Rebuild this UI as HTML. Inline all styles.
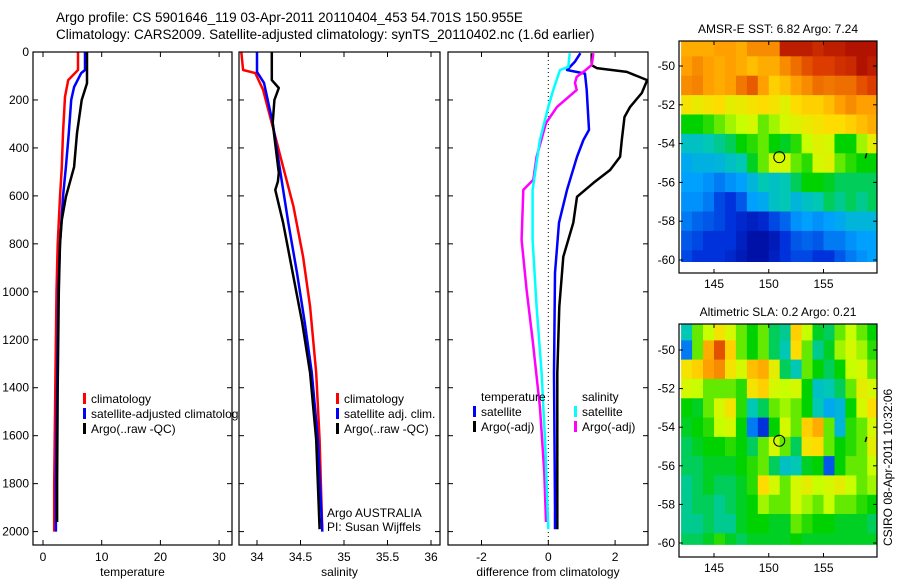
<!DOCTYPE html>
<html><head><meta charset="utf-8"><style>
body{margin:0;background:#fff;}
svg{display:block;font-family:"Liberation Sans",sans-serif;}
</style></head><body>
<svg id="fig" width="900" height="580" viewBox="0 0 900 580"></svg>
<script>
// ---- profile data (depth in m) ----
const tClimDepth=[0,75,117,187,338,479,604,800,1000,1400,1800,2000];
const tClimVal=[5.96,5.96,4.3,3.75,3.4,3.2,2.9,2.5,2.3,2.1,1.9,1.9];
const tSatDepth=[0,75,88,146,200,338,479,604,800,1000,1400,1800,2000];
const tSatVal=[7.15,7.15,6.5,5.3,4.8,4.4,3.9,3.4,2.9,2.6,2.4,2.2,2.2];
const tArgoDepth=[0,130,200,338,479,604,700,800,1000,1400,1800,1960];
const tArgoVal=[7.5,7.5,6.6,5.8,5.3,3.9,3.2,2.9,2.7,2.5,2.4,2.4];

const sClimDepth=[0,75,88,158,296,437,645,854,1062,1338,1617,2000];
const sClimVal=[33.82,33.84,33.98,34.07,34.17,34.27,34.42,34.53,34.61,34.68,34.72,34.75];
const sSatDepth=[0,83,129,296,504,712,921,1129,1338,1617,2000];
const sSatVal=[34.0,34.0,34.08,34.18,34.27,34.36,34.46,34.55,34.63,34.70,34.75];
const sArgoDepth=[0,117,150,200,296,504,540,575,712,921,1129,1338,1617,1990];
const sArgoVal=[34.17,34.17,34.25,34.2,34.18,34.25,34.24,34.21,34.3,34.41,34.52,34.61,34.68,34.72];

const dTSatDepth=[5,40,75,90,158,325,367,437,575,712,921,1338,1900,1990];
const dTSatVal=[0.96,0.8,0.56,1.1,1.15,1.22,1.05,0.86,0.56,0.32,0.2,0.17,0.2,0.2];
const dTArgoDepth=[5,55,67,83,117,171,229,271,367,437,492,546,604,712,854,1062,1338,1990];
const dTArgoVal=[1.3,1.3,1.45,2.35,2.96,2.8,2.45,2.28,2.2,2.15,1.85,1.35,0.86,0.75,0.45,0.33,0.27,0.27];
const dSSatDepth=[5,62,75,158,229,367,575,783,1062,1338,1617,1990];
const dSSatVal=[0.64,0.6,0.35,0.15,0,-0.25,-0.47,-0.47,-0.35,-0.2,-0.1,0];
const dSArgoDepth=[5,54,83,104,129,158,229,296,437,533,575,783,992,1200,1479,1754,1960];
const dSArgoVal=[1.35,1.3,1.05,0.85,0.8,0.85,0.26,-0.07,-0.35,-0.45,-0.75,-0.8,-0.65,-0.47,-0.25,-0.12,-0.07];

const depthTicks=[0,200,400,600,800,1000,1200,1400,1600,1800,2000];
const tempTicks=[0,10,20,30];
const salTicks=[34,34.5,35,35.5,36];
const salTickLabels=["34","34.5","35","35.5","36"];
const diffTicks=[-2,0,2];

// ---- map data (colormap fraction 0..1), rows lat -49..-60, cols lon 142.5..159.5 ----
const mapLats=[-49,-50,-51,-52,-53,-54,-55,-56,-57,-58,-59,-60];
const mapLons=[142.5,143.5,144.5,145.5,146.5,147.5,148.5,149.5,150.5,151.5,152.5,153.5,154.5,155.5,156.5,157.5,158.5,159.5];
const sstGrid=[
[.78,.78,.78,.80,.80,.78,.82,.82,.82,.95,.95,.95,.93,.95,.95,.97,.97,.97],
[.80,.82,.80,.78,.80,.78,.75,.78,.78,.82,.85,.88,.90,.90,.92,.93,.97,.95],
[.82,.83,.80,.78,.80,.84,.87,.80,.72,.75,.80,.82,.85,.84,.85,.85,.88,.90],
[.68,.66,.68,.70,.65,.66,.68,.70,.68,.64,.70,.72,.72,.75,.80,.82,.80,.80],
[.50,.50,.52,.55,.58,.60,.62,.55,.58,.62,.64,.66,.68,.70,.70,.72,.75,.78],
[.38,.38,.40,.42,.45,.50,.52,.55,.50,.48,.52,.60,.64,.62,.50,.50,.58,.65],
[.32,.34,.34,.35,.38,.40,.48,.55,.62,.62,.55,.52,.62,.64,.55,.52,.50,.50],
[.30,.30,.28,.25,.28,.30,.35,.40,.38,.40,.45,.50,.50,.48,.45,.45,.45,.45],
[.28,.28,.25,.18,.15,.20,.30,.32,.38,.40,.35,.38,.40,.45,.42,.45,.42,.45],
[.25,.22,.20,.18,.15,.12,.10,.12,.18,.22,.28,.30,.28,.30,.32,.35,.35,.35],
[.20,.18,.15,.15,.15,.10,.05,.05,.08,.15,.20,.22,.20,.25,.25,.28,.30,.30],
[.18,.15,.15,.15,.12,.08,.05,.05,.10,.15,.18,.18,.15,.15,.20,.25,.28,.30]];
const slaGrid=[
[.40,.55,.60,.68,.62,.55,.50,.55,.45,.42,.72,.60,.48,.45,.55,.60,.55,.50],
[.25,.55,.78,.88,.72,.55,.50,.55,.45,.40,.70,.55,.42,.48,.58,.62,.58,.52],
[.68,.72,.80,.82,.68,.62,.75,.78,.65,.45,.40,.55,.50,.45,.50,.60,.62,.55],
[.62,.60,.55,.55,.55,.52,.68,.72,.62,.60,.62,.50,.38,.40,.45,.55,.65,.62],
[.50,.48,.55,.62,.68,.52,.40,.45,.55,.58,.55,.50,.40,.32,.35,.50,.62,.70],
[.48,.50,.52,.60,.62,.50,.25,.15,.50,.62,.55,.72,.78,.55,.35,.52,.55,.62],
[.45,.48,.50,.50,.52,.50,.45,.55,.62,.55,.45,.68,.70,.55,.50,.52,.55,.65],
[.45,.45,.48,.48,.48,.50,.52,.55,.45,.38,.40,.48,.50,.20,.50,.55,.55,.60],
[.42,.45,.48,.45,.45,.48,.52,.70,.62,.55,.62,.65,.60,.62,.65,.60,.55,.58],
[.42,.45,.45,.42,.45,.48,.50,.58,.55,.55,.62,.58,.55,.60,.55,.55,.52,.50],
[.42,.42,.45,.42,.42,.48,.50,.50,.48,.48,.55,.52,.50,.50,.48,.48,.48,.45],
[.45,.45,.48,.52,.48,.45,.48,.48,.48,.48,.50,.48,.48,.48,.48,.48,.48,.48]];
const floatLon=150.96, floatLat=-54.7;
const latTicks=[-50,-52,-54,-56,-58,-60];
const lonTicks=[145,150,155];

const NS="http://www.w3.org/2000/svg";
const svg=document.getElementById('fig');
function mk(tag,attrs,parent){const e=document.createElementNS(NS,tag);for(const k in attrs)e.setAttribute(k,attrs[k]);(parent||svg).appendChild(e);return e;}
function txt(s,x,y,anchor,size,parent){const t=mk('text',{x:x,y:y,'text-anchor':anchor||'start','font-size':size||12,fill:'#000'},parent);t.textContent=s;return t;}

const TOP=52,BOT=545;
const yD=d=>52+d*0.2398;

const title=mk('g',{});


txt('Argo profile: CS 5901646_119 03-Apr-2011 20110404_453 54.701S 150.955E',56,22,'start',13.5,title);
txt('Climatology: CARS2009. Satellite-adjusted climatology: synTS_20110402.nc (1.6d earlier)',56,39,'start',13.5,title);

function panel(name,x0,x1,xf,ticks,labels,xlabel,leftLabels){
  const g=mk('g',{});
  
  
  mk('rect',{x:x0,y:TOP,width:x1-x0,height:BOT-TOP,fill:'#fff',stroke:'none'},g);
  ticks.forEach((v,i)=>{const x=xf(v);
    mk('line',{x1:x,x2:x,y1:BOT,y2:BOT-5,stroke:'#000'},g);
    mk('line',{x1:x,x2:x,y1:TOP,y2:TOP+5,stroke:'#000'},g);
    const t=txt(labels[i],x,561,'middle',12,g);
    
    
  });
  depthTicks.forEach(d=>{const y=yD(d);
    mk('line',{x1:x0,x2:x0+5,y1:y,y2:y,stroke:'#000'},g);
    mk('line',{x1:x1,x2:x1-5,y1:y,y2:y,stroke:'#000'},g);
    if(leftLabels){const t=txt(String(d),x0-4,y+4,'end',12,g);
      
      }
  });
  const xl=txt(xlabel,(x0+x1)/2,576,'middle',12,g);
  
  
  return g;
}
function frame(g,x0,x1){mk('rect',{x:x0,y:TOP,width:x1-x0,height:BOT-TOP,fill:'none',stroke:'#000','stroke-width':1.2},g);}
function series(g,name,depths,vals,xf,color,w){
  const pts=depths.map((d,i)=>xf(vals[i]).toFixed(1)+','+yD(d).toFixed(1)).join(' ');
  const p=mk('polyline',{points:pts,fill:'none',stroke:color,'stroke-width':w||2.5,'stroke-linejoin':'round'},g);
  
  
}
function legend(g,x,y,color,label){
  const e=mk('g',{},g);
  
  
  if(color)mk('rect',{x:x,y:y-10,width:3,height:11,fill:color},e);
  txt(label,x+8,y,'start',12,e);
}

const xT=v=>43+v*5.87;
const p1=panel('temperature-panel',33,232,xT,tempTicks,tempTicks.map(String),'temperature',true);
series(p1,'temp-climatology-line',tClimDepth,tClimVal,xT,'#f00');
series(p1,'temp-satellite-line',tSatDepth,tSatVal,xT,'#00f');
series(p1,'temp-argo-line',tArgoDepth,tArgoVal,xT,'#000');
legend(p1,83,403,'#f00','climatology');
legend(p1,83,418,'#00f','satellite-adjusted climatology');
legend(p1,83,433,'#000','Argo(..raw -QC)');
frame(p1,33,232);

const xS=v=>257+(v-34)*87;
const p2=panel('salinity-panel',239,440,xS,salTicks,salTickLabels,'salinity',false);
series(p2,'sal-climatology-line',sClimDepth,sClimVal,xS,'#f00');
series(p2,'sal-satellite-line',sSatDepth,sSatVal,xS,'#00f');
series(p2,'sal-argo-line',sArgoDepth,sArgoVal,xS,'#000');
legend(p2,336,403,'#f00','climatology');
legend(p2,336,418,'#00f','satellite adj. clim.');
legend(p2,336,433,'#000','Argo(..raw -QC)');
const inst=mk('g',{},p2);


txt('Argo AUSTRALIA',327,517,'start',12,inst);
txt('PI: Susan Wijffels',327,531,'start',12,inst);
frame(p2,239,440);

const xDf=v=>548.3+v*33.4;
const p3=panel('difference-panel',448,648,xDf,diffTicks,diffTicks.map(String),'difference from climatology',false);
const zl=mk('line',{x1:xDf(0),x2:xDf(0),y1:TOP,y2:BOT,stroke:'#000','stroke-dasharray':'1,3'},p3);


series(p3,'dtemp-argo-line',dTArgoDepth,dTArgoVal,xDf,'#000');
series(p3,'dtemp-satellite-line',dTSatDepth,dTSatVal,xDf,'#00f');
series(p3,'dsal-argo-line',dSArgoDepth,dSArgoVal,xDf,'#f0f');
series(p3,'dsal-satellite-line',dSSatDepth,dSSatVal,xDf,'#0ff');
legend(p3,473,401,null,'temperature');
legend(p3,473,416,'#00f','satellite');
legend(p3,473,431,'#000','Argo(-adj)');
legend(p3,574,401,null,'salinity');
legend(p3,574,416,'#0ff','satellite');
legend(p3,574,431,'#f0f','Argo(-adj)');
frame(p3,448,648);

// colormap (matches reference palette)
const cmapStops=[0,0.15,0.3,0.4,0.5,0.6,0.7,0.8,0.9,1.0];
const cmapColors=[[0,0,140],[0,50,220],[0,160,255],[0,200,180],[0,210,0],[200,255,0],[255,220,0],[255,160,0],[220,60,0],[160,0,0]];
function cmap(v){v=Math.max(0,Math.min(1,v));
  let i=0;while(i<cmapStops.length-2&&v>cmapStops[i+1])i++;
  const f=(v-cmapStops[i])/(cmapStops[i+1]-cmapStops[i]);
  const a=cmapColors[i],b=cmapColors[i+1];
  return 'rgb('+a.map((c,k)=>Math.round(c+(b[k]-c)*f)).join(',')+')';}

function mapPanel(name,grid,titleStr,y0,y1,yLatM50,yLatM60){
  const g=mk('g',{});
  
  
  const x0=679,x1=877;
  const xL=lon=>714+(lon-145)*10.95;
  const yL=lat=>yLatM50+(-50-lat)*(yLatM60-yLatM50)/10;
  const clip=mk('clipPath',{id:name+'-clip'},g);
  mk('rect',{x:x0,y:y0,width:x1-x0,height:yL(-60.1)-y0},clip);
  const cells=mk('g',{'clip-path':'url(#'+name+'-clip)'},g);
  grid.forEach((row,i)=>row.forEach((v,j)=>{
    const xa=xL(mapLons[j]-0.5),xb=xL(mapLons[j]+0.5),ya=yL(mapLats[i]+0.5),yb=yL(mapLats[i]-0.5);
    const r=mk('rect',{x:xa.toFixed(1),y:ya.toFixed(1),width:(xb-xa+0.6).toFixed(1),height:(yb-ya+0.6).toFixed(1),fill:cmap(v)},cells);
    
    
  }));
  const fc=mk('circle',{cx:xL(floatLon),cy:yL(floatLat),r:5.5,fill:'none',stroke:'#000','stroke-width':1},g);
  
  
  mk('path',{d:'M'+xL(158.95)+' '+yL(-54.5)+' l-1.5 5',stroke:'#000','stroke-width':1.5},g);
  mk('rect',{x:x0,y:y0,width:x1-x0,height:y1-y0,fill:'none',stroke:'#000','stroke-width':1.2},g);
  latTicks.forEach(l=>{const y=yL(l);
    mk('line',{x1:x0,x2:x0+4,y1:y,y2:y,stroke:'#000'},g);
    mk('line',{x1:x1,x2:x1-4,y1:y,y2:y,stroke:'#000'},g);
    const t=txt(String(l),x0-4,y+4,'end',12,g);
    
    });
  lonTicks.forEach(l=>{const x=xL(l);
    mk('line',{x1:x,x2:x,y1:y1,y2:y1-4,stroke:'#000'},g);
    mk('line',{x1:x,x2:x,y1:y0,y2:y0+4,stroke:'#000'},g);
    const t=txt(String(l),x,y1+15,'middle',12,g);
    
    });
  const tt=txt(titleStr,778,y0-8,'middle',12,g);
  
  
}
mapPanel('sst-map',sstGrid,'AMSR-E SST: 6.82 Argo: 7.24',41,273,66,260);
mapPanel('sla-map',slaGrid,'Altimetric SLA: 0.2 Argo: 0.21',324,557,350,543);

const stamp=txt('CSIRO 08-Apr-2011 10:32:06',0,0,'start',12);
stamp.setAttribute('transform','translate(892,546) rotate(-90)');


</script>
</body></html>
